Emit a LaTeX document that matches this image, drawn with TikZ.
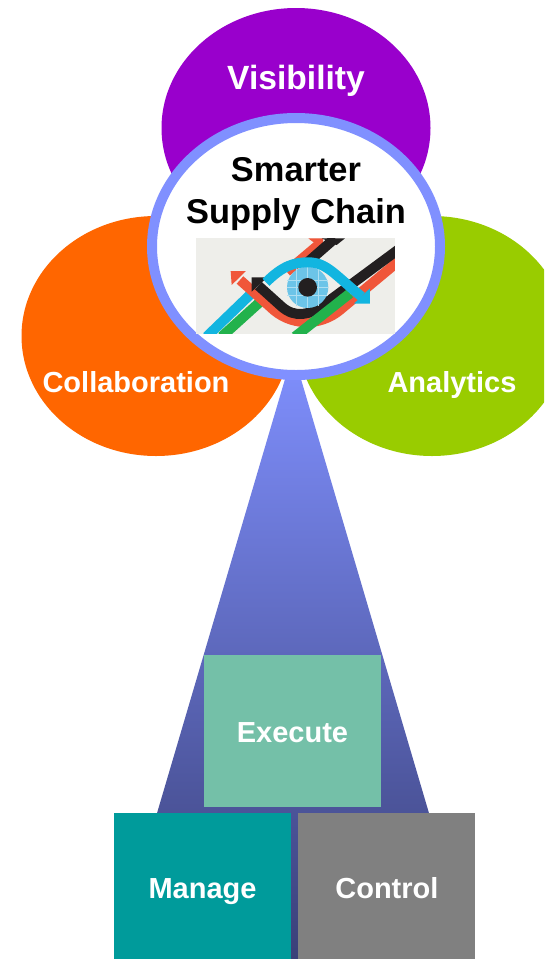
\documentclass[tikz,border=0pt]{standalone}
\usepackage{fontspec}
\setmainfont{Liberation Sans}
\usetikzlibrary{positioning,calc,shapes.geometric}
\definecolor{visCol}{HTML}{9900CC}
\definecolor{colCol}{HTML}{FF6600}
\definecolor{anaCol}{HTML}{99CC00}
\definecolor{ringCol}{HTML}{8090FF}
\definecolor{beamCol}{HTML}{3A4078}
\definecolor{exeCol}{HTML}{74C0A8}
\definecolor{manCol}{HTML}{009B9B}
\definecolor{conCol}{HTML}{808080}
\definecolor{eyeBg}{HTML}{EEEEEA}
\definecolor{eyeRed}{HTML}{F0563A}
\definecolor{eyeBlack}{HTML}{231F20}
\definecolor{eyeCyan}{HTML}{12B5E0}
\definecolor{eyeGreen}{HTML}{22B24C}
\definecolor{eyeIris}{HTML}{6CC4E8}
\tikzset{
	petal/.style={ellipse, minimum width=269pt, minimum height=240pt, inner sep=0pt},
	petaltext/.style={text=white, font=\fontsize{29}{32}\selectfont\bfseries},
	block/.style={minimum width=177pt, inner sep=0pt, petaltext},
	band/.style={line width=10pt},
}
\begin{document}
\begin{tikzpicture}[x=1pt,y=-1pt]
	\clip (0,0) rectangle (544,959);
	\fill[white] (0,0) rectangle (544,959);

	\node[petal, fill=visCol] (vis) at (296,128) {};
	\node[petal, fill=colCol] (col) at (156,336) {};
	\node[petal, fill=anaCol] (ana) at (432,336) {};

	\node[petaltext, anchor=base, font=\fontsize{33.6}{36}\selectfont\bfseries] (vistext) at ($(vis)+(0,-39)$) {Visibility};
	\node[petaltext, anchor=base] (coltext) at ($(col)+(-20,56)$) {Collaboration};
	\node[petaltext, anchor=base] (anatext) at ($(ana)+(20,56)$) {Analytics};

	% beam below the hub
	\coordinate (apex) at (293,352);
	\coordinate (beamL) at (114,959);
	\coordinate (beamR) at (472,959);
	\shade[top color=ringCol, bottom color=beamCol] (apex) -- (beamR) -- (beamL) -- cycle;

	\node[ellipse, draw=ringCol, line width=10pt, fill=white, minimum width=288pt, minimum height=257pt, inner sep=0pt] (hub) at (296,246.5) {};
	\node[font=\fontsize{34.4}{42}\selectfont\bfseries, align=center] (hubtext) at ($(hub)+(0,-52.5)$) {Smarter\\Supply Chain};

	% eye picture, in pixels of the zoomed crop
	\begin{scope}[shift={(180,225)}, x=0.3333pt, y=-0.3333pt]
		\fill[eyeBg] (48,40) rectangle (645,327);
		\clip (48,40) rectangle (645,327);
		\draw[eyeRed, band] (320,140) -- (415,60);
		\fill[eyeRed] (385,40) -- (430,40) -- (428,72) -- cycle;
		\draw[eyeBlack, band] (385,110) -- (465,40);
		\fill[eyeBlack] (425,40) -- (495,40) -- (470,60) -- cycle;
		\draw[eyeCyan, band] (80,335) -- (225,195);
		\draw[eyeGreen, band] (125,335) -- (250,222);
		\draw[eyeRed, band] (180,165) -- (270,245) .. controls (330,305) and (420,305) .. (480,255) -- (660,105);
		\fill[eyeRed] (152,138) -- (198,138) -- (155,180) -- cycle;
		\draw[eyeBlack, band] (235,182) -- (305,245) .. controls (345,280) and (390,270) .. (430,240) -- (660,70);
		\fill[eyeBlack] (215,157) -- (262,157) -- (215,200) -- cycle;
		\draw[eyeGreen, band] (345,335) -- (510,205);
		\fill[eyeIris] (383,187) circle [radius=62];
		\draw[eyeIris!55!white, line width=0.5pt] (322,165) -- (444,165) (322,187) -- (444,187) (322,210) -- (444,210) (350,130) -- (350,244) (383,125) -- (383,249) (416,130) -- (416,244);
		\fill[eyeBlack] (383,187) circle [radius=28];
		\draw[eyeCyan, band] (258,172) .. controls (310,120) and (345,112) .. (385,112) .. controls (440,112) and (465,150) .. (545,215);
		\fill[eyeCyan] (570,190) -- (570,236) -- (522,236) -- cycle;
	\end{scope}

	\node[block, minimum height=152pt, fill=exeCol, text height=26pt, text depth=4pt] (execute) at (292.5,731) {Execute};
	\node[block, minimum height=146pt, fill=manCol, text height=26pt, text depth=2pt] (manage) at (202.5,886) {Manage};
	\node[block, minimum height=146pt, fill=conCol, text height=26pt, text depth=2pt, right=7pt of manage] (control) {Control};
\end{tikzpicture}
\end{document}
